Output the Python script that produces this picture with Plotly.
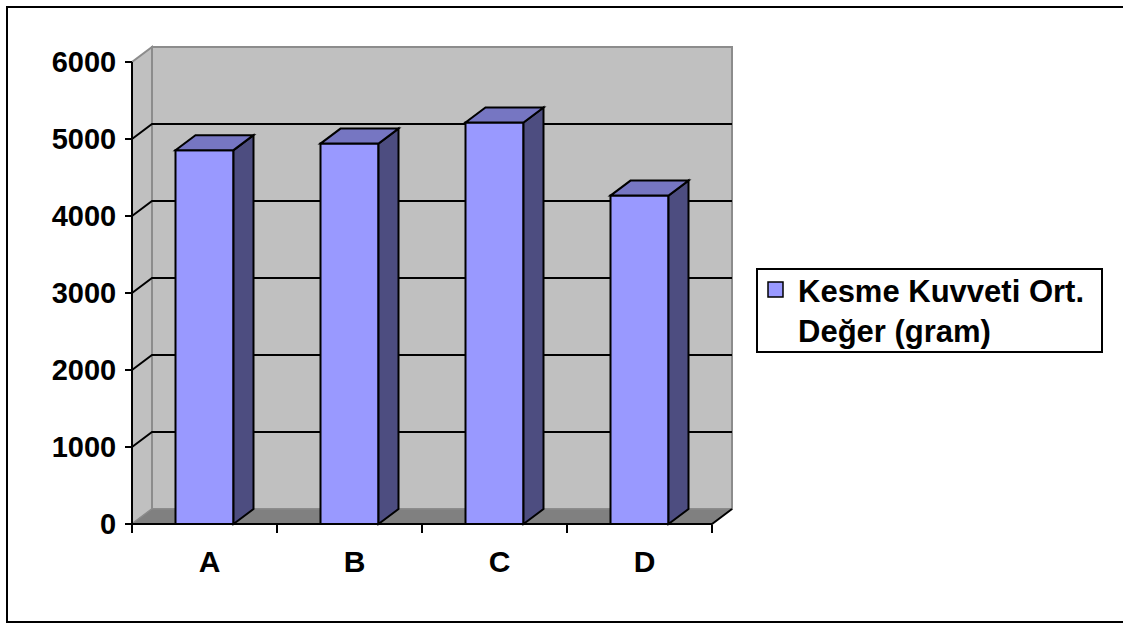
import plotly.graph_objects as go

# Data
categories = ["A", "B", "C", "D"]
values = [4855, 4940, 5215, 4265]
series_name = "Kesme Kuvveti Ort.<br>Değer (gram)"
y_ticks = [0, 1000, 2000, 3000, 4000, 5000, 6000]

# Figure geometry (pixels)
W, H = 1123, 624
X0_PX, CAT_PX = 204.5, 145.0        # centre of first category, width of one category
Y0_PX, PX_PER_UNIT = 524.0, 0.077   # pixel row of value 0, pixels per value unit
DEPTH_DX_PX, DEPTH_DY_PX = 20.0, 15.0
BAR_WIDTH = 0.4
LABEL_SHIFT_PX = 5.0

FAMILY = "Liberation Sans, Arial, sans-serif"
AXIS_FONT = dict(family=FAMILY, size=29, color="black", weight="bold")
CAT_FONT = dict(family=FAMILY, size=30, color="black", weight="bold")
LEGEND_FONT = dict(family=FAMILY, size=31, color="black", weight="bold")
FRONT, SIDE, TOP = "#9999FF", "#4D4D80", "#7676C2"
WALL, FLOOR, EDGE = "#C0C0C0", "#808080", "#8C8C8C"

# axis ranges so that data units map linearly onto the page
x_range = [(0 - X0_PX) / CAT_PX, (W - X0_PX) / CAT_PX]
y_range = [(Y0_PX - H) / PX_PER_UNIT, Y0_PX / PX_PER_UNIT]
dx = DEPTH_DX_PX / CAT_PX
dy = DEPTH_DY_PX / PX_PER_UNIT

xs = list(range(len(categories)))
xl, xr = -0.5, len(categories) - 0.5
vmax = y_ticks[-1]


def path(points):
    return "M " + " L ".join(f"{x},{y}" for x, y in points) + " Z"


def open_path(points):
    return "M " + " L ".join(f"{x},{y}" for x, y in points)


def px(x):
    return x / W


def py(y):
    return 1 - y / H


shapes = []
# left side wall
shapes.append(dict(type="path", xref="x", yref="y", layer="below",
                   path=path([(xl, 0), (xl + dx, dy), (xl + dx, vmax + dy), (xl, vmax)]),
                   fillcolor=WALL, line=dict(color=EDGE, width=2)))
# back wall
shapes.append(dict(type="rect", xref="x", yref="y", layer="below",
                   x0=xl + dx, x1=xr + dx, y0=dy, y1=vmax + dy,
                   fillcolor=WALL, line=dict(color=EDGE, width=2)))
# floor
shapes.append(dict(type="path", xref="x", yref="y", layer="below",
                   path=path([(xl, 0), (xr, 0), (xr + dx, dy), (xl + dx, dy)]),
                   fillcolor=FLOOR, line=dict(color=EDGE, width=1)))
# gridlines across side wall and back wall
for v in y_ticks[1:-1]:
    shapes.append(dict(type="path", xref="x", yref="y", layer="below",
                       path=open_path([(xl, v), (xl + dx, v + dy), (xr + dx, v + dy)]),
                       line=dict(color="black", width=2)))
# axis lines and floor edge
shapes.append(dict(type="line", xref="x", yref="y", layer="below",
                   x0=xl, x1=xl, y0=0, y1=vmax, line=dict(color="black", width=2)))
shapes.append(dict(type="path", xref="x", yref="y", layer="below",
                   path=open_path([(xl, 0), (xr, 0), (xr + dx, dy)]),
                   line=dict(color="black", width=2)))
# bar side and top faces
for x, v in zip(xs, values):
    a, b = x - BAR_WIDTH / 2, x + BAR_WIDTH / 2
    shapes.append(dict(type="path", xref="x", yref="y", layer="above",
                       path=path([(b, 0), (b + dx, dy), (b + dx, v + dy), (b, v)]),
                       fillcolor=SIDE, line=dict(color="black", width=2)))
    shapes.append(dict(type="path", xref="x", yref="y", layer="above",
                       path=path([(a, v), (b, v), (b + dx, v + dy), (a + dx, v + dy)]),
                       fillcolor=TOP, line=dict(color="black", width=2)))
# legend box and swatch
shapes.append(dict(type="rect", xref="paper", yref="paper",
                   x0=px(757), x1=px(1102), y0=py(352), y1=py(269),
                   line=dict(color="black", width=2), fillcolor="white"))
shapes.append(dict(type="rect", xref="paper", yref="paper",
                   x0=px(768), x1=px(783), y0=py(297), y1=py(282),
                   line=dict(color="black", width=1.5), fillcolor=FRONT))
# chart frame
shapes.append(dict(type="rect", xref="paper", yref="paper",
                   x0=px(7), x1=px(1130), y0=py(622), y1=py(7),
                   line=dict(color="black", width=2), fillcolor="rgba(0,0,0,0)"))

annotations = [dict(
    xref="paper", yref="paper", x=px(796), y=py(272), xanchor="left", yanchor="top",
    text=series_name, align="left", showarrow=False, font=LEGEND_FONT,
)]

fig = go.Figure()
fig.add_trace(go.Bar(
    x=xs, y=values, width=BAR_WIDTH, name=series_name,
    marker=dict(color=FRONT, line=dict(color="black", width=2)),
    showlegend=False,
))

fig.update_layout(
    width=W, height=H,
    margin=dict(l=0, r=0, t=0, b=0),
    paper_bgcolor="white", plot_bgcolor="white",
    font=AXIS_FONT,
    shapes=shapes,
    annotations=annotations,
    showlegend=False,
    xaxis=dict(
        range=x_range, domain=[0, 1], anchor="free", position=(H - Y0_PX) / H,
        tickmode="array", tickvals=[x + LABEL_SHIFT_PX / CAT_PX for x in xs],
        ticktext=categories, ticks="",
        ticklabelstandoff=17,
        minor=dict(tickmode="array", tickvals=[i - 0.5 for i in range(len(categories) + 1)],
                   ticks="outside", ticklen=8, tickwidth=2, tickcolor="black", showgrid=False),
        showgrid=False, zeroline=False, showline=False, tickfont=CAT_FONT,
        fixedrange=True,
    ),
    yaxis=dict(
        range=y_range, domain=[0, 1], anchor="free", position=(X0_PX - CAT_PX / 2) / W,
        tickmode="array", tickvals=y_ticks, ticks="outside", ticklen=7, tickwidth=2,
        tickcolor="black", ticklabelstandoff=3,
        showgrid=False, zeroline=False, showline=False, tickfont=AXIS_FONT,
        fixedrange=True,
    ),
)

fig.write_html("out.html")
